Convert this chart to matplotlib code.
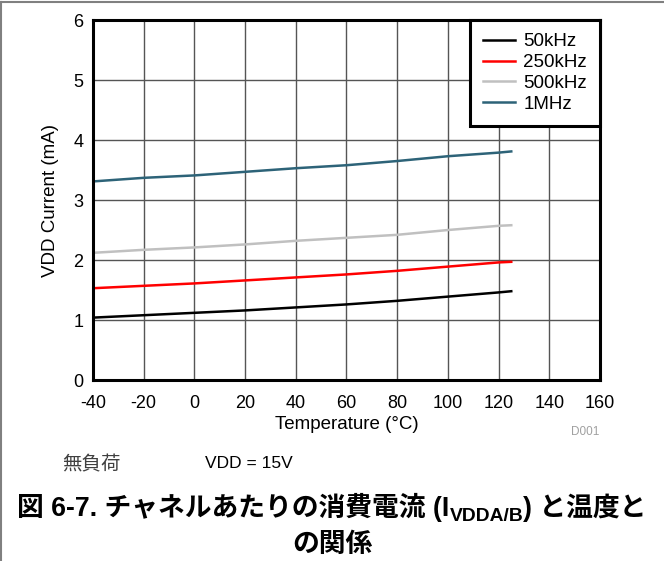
import matplotlib
matplotlib.use('Agg')
import matplotlib.pyplot as plt
from matplotlib.lines import Line2D

plt.rcParams['font.family'] = ['Liberation Sans', 'Noto Sans CJK JP', 'DejaVu Sans']
plt.rcParams['axes.unicode_minus'] = False

# データ
temp = [-40, -20, 0, 20, 40, 60, 80, 100, 120, 125]
i_50k = [1.04, 1.08, 1.12, 1.16, 1.21, 1.26, 1.32, 1.39, 1.46, 1.48]
i_250k = [1.53, 1.57, 1.61, 1.66, 1.71, 1.76, 1.82, 1.89, 1.96, 1.97]
i_500k = [2.12, 2.17, 2.21, 2.26, 2.32, 2.37, 2.42, 2.50, 2.57, 2.58]
i_1m = [3.31, 3.37, 3.41, 3.47, 3.53, 3.58, 3.65, 3.73, 3.79, 3.81]

labels = ['50kHz', '250kHz', '500kHz', '1MHz']
colors = ['#000000', '#ff0000', '#c0c0c0', '#2d6378']

fig = plt.figure(figsize=(6.64, 5.61), dpi=100)
ax = fig.add_axes([0.140, 0.3226, 0.7636, 0.6417])

for ys, lab, c in zip([i_50k, i_250k, i_500k, i_1m], labels, colors):
    ax.plot(temp, ys, color=c, lw=1.8, label=lab)

ax.set_xlim(-40, 160)
ax.set_ylim(0, 6)
ax.set_xticks(range(-40, 161, 20))
ax.set_yticks(range(0, 7))
ax.grid(True, color='#555555', lw=1)
ax.tick_params(length=0, labelsize=13)
ax.tick_params(axis='x', pad=11)
ax.tick_params(axis='y', pad=7)
for s in ax.spines.values():
    s.set_linewidth(2.2)
    s.set_color('black')

ax.set_xlabel('Temperature (°C)', fontsize=13.5, labelpad=2.5)
ax.set_ylabel('VDD Current (mA)', fontsize=13.5, labelpad=10)

leg = ax.legend(loc='upper right', borderaxespad=0, fontsize=13.5, fancybox=False,
                framealpha=1, edgecolor='black', handlelength=1.7,
                labelspacing=0.2, borderpad=0.7, handletextpad=0.45)
leg.get_frame().set_linewidth(2.2)

fig.text(0.903, 0.23, 'D001', fontsize=8.5, color='#a0a0a0', ha='right', va='center')
fig.text(0.093, 0.172, '無負荷', fontsize=14, color='#404040', ha='left', va='center',
         family=['Noto Sans CJK JP'])
fig.text(0.309, 0.174, 'VDD = 15V', fontsize=12.5, ha='left', va='center')


def draw_runs(runs, y_px, size):
    # 文字列を左から順に並べて中央揃え
    r = fig.canvas.get_renderer()
    items = []
    x = 0.0
    for txt, scale, dy in runs:
        t = fig.text(0, 0, txt, fontsize=size * scale, fontweight='bold',
                     ha='left', va='baseline', transform=None)
        w = t.get_window_extent(r).width
        items.append((t, x, dy))
        x += w
    x0 = fig.bbox.width / 2 - x / 2
    for t, xo, dy in items:
        t.set_position((x0 + xo, y_px - dy))


H = fig.bbox.height
size = 19.3
draw_runs([('図 6-7. チャネルあたりの消費電流 (I', 1, 0), ('VDDA/B', 0.72, 5),
           (') と温度と', 1, 0)], H - 516, size)
draw_runs([('の関係', 1, 0)], H - 552, size)

# ページ枠
fig.add_artist(Line2D([0, 1], [0.996, 0.996], transform=fig.transFigure, color='#808080', lw=1.5))
fig.add_artist(Line2D([0.002, 0.002], [0, 0.996], transform=fig.transFigure, color='#808080', lw=1.5))

fig.savefig('out.png', dpi=100)
